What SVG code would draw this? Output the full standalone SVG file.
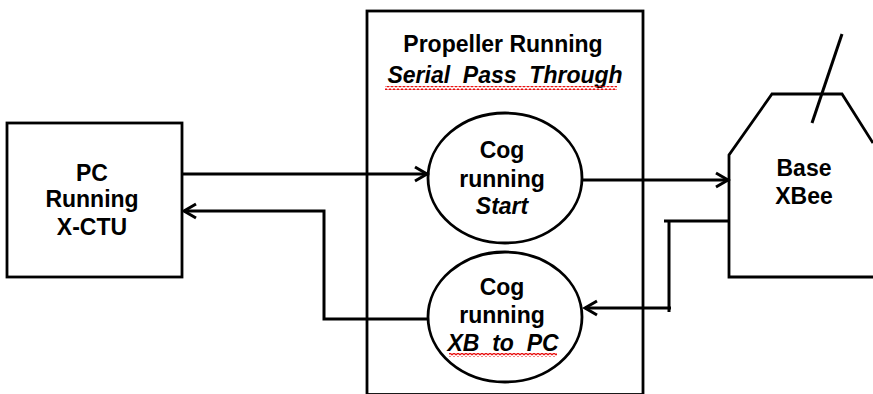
<svg xmlns="http://www.w3.org/2000/svg" width="873" height="394" viewBox="0 0 873 394">
<style>
.shape{fill:#fff;stroke:#000;stroke-width:2.8}
.line{fill:none;stroke:#000;stroke-width:3}
.t{font-family:"Liberation Sans",Arial,sans-serif;font-size:23px;font-weight:bold;fill:#000;text-anchor:middle;white-space:pre}
.i{font-style:italic}
</style>
<defs>
<marker id="arr" markerUnits="userSpaceOnUse" markerWidth="20" markerHeight="20" refX="13" refY="9" orient="auto" overflow="visible">
<path d="M1,2 L13,9 L1,16" fill="none" stroke="#000" stroke-width="3"/>
</marker>
<pattern id="squig" patternUnits="userSpaceOnUse" width="4" height="4" x="0" y="0">
<path d="M0,3 L2,1 L4,3" fill="none" stroke="#e81010" stroke-width="1.3"/>
</pattern>
</defs>
<rect width="873" height="394" fill="#fff"/>

<g id="propeller">
<rect class="shape" x="367" y="11" width="276" height="383.5"/>
<text class="t" x="503" y="52">Propeller Running</text>
<text class="t i" x="505" y="83">Serial  Pass  Through</text>
<rect x="385" y="86" width="232" height="4" fill="url(#squig)"/>
</g>

<g id="pc">
<rect class="shape" x="7" y="123" width="175" height="154"/>
<text class="t" x="92" y="181">PC</text>
<text class="t" x="92" y="207">Running</text>
<text class="t" x="92" y="235">X-CTU</text>
</g>

<g id="cog-start">
<ellipse class="shape" cx="505" cy="178" rx="77" ry="65"/>
<text class="t" x="502" y="158">Cog</text>
<text class="t" x="502" y="187">running</text>
<text class="t i" x="502" y="214">Start</text>
</g>

<g id="cog-xb">
<ellipse class="shape" cx="505" cy="317" rx="77" ry="65"/>
<text class="t" x="502" y="295">Cog</text>
<text class="t" x="502" y="323">running</text>
<text class="t i" x="503" y="351">XB  to  PC</text>
<rect x="449" y="353" width="108" height="4" fill="url(#squig)"/>
</g>

<g id="xbee">
<path class="shape" d="M873,143 L842,94 H772 L729,155 V277 H873"/>
<path class="line" d="M842,34 L812,123"/>
<text class="t" x="804" y="176">Base</text>
<text class="t" x="804" y="204">XBee</text>
</g>

<g id="connectors">
<path class="line" d="M182,174 H427" marker-end="url(#arr)"/>
<path class="line" d="M428,319 H324 V211 H184" marker-end="url(#arr)"/>
<path class="line" d="M582,180 H728" marker-end="url(#arr)"/>
<path class="line" d="M729,221 H664"/>
<path class="line" d="M669,221 V312"/>
<path class="line" d="M671,308 H585" marker-end="url(#arr)"/>
</g>
</svg>
